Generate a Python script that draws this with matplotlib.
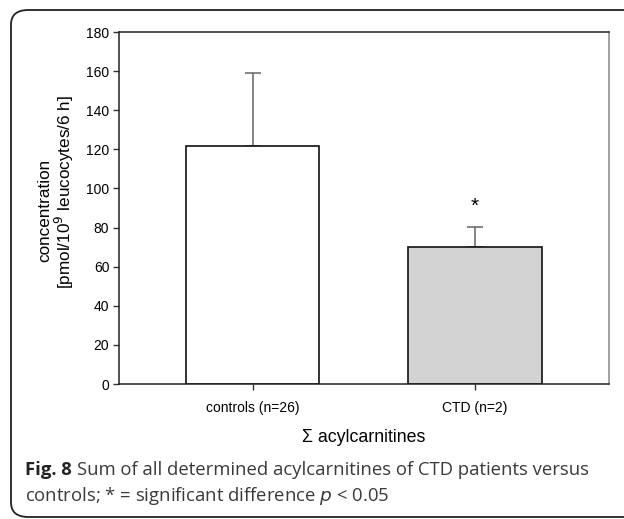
import matplotlib.pyplot as plt
from matplotlib.patches import FancyBboxPatch

groups = ['controls (n=26)', 'CTD (n=2)']
means = [121.5, 70.0]
sds = [37.3, 10.3]
bar_colors = ['white', '#d3d3d3']
yticks = [0, 20, 40, 60, 80, 100, 120, 140, 160, 180]

W, H = 624, 519
fig = plt.figure(figsize=(W / 100, H / 100), dpi=100)

def px(x0, y0, x1, y1):
    return [x0 / W, 1 - y1 / H, (x1 - x0) / W, (y1 - y0) / H]

# rounded frame around figure + caption (right side runs off the image)
frame = FancyBboxPatch((11 / W, 2 / H), 700 / W, (H - 12) / H,
                       boxstyle='round,pad=0,rounding_size=0.028',
                       transform=fig.transFigure, fill=False,
                       edgecolor='#222222', linewidth=1.3, clip_on=False)
fig.patches.append(frame)

ax = fig.add_axes(px(119, 32, 609, 384))
x = list(range(len(groups)))
ax.bar(x, means, width=0.6, color=bar_colors, edgecolor='#111111', linewidth=1.2, zorder=2)
ax.errorbar(x, means, yerr=[[0, 0], sds], fmt='none', ecolor='#707070',
            elinewidth=1.2, capsize=5.5, capthick=1.2, zorder=1)
ax.text(1, 91, '*', ha='center', va='center', fontsize=15, fontfamily='Liberation Sans')

ax.set_xlim(-0.6, 1.602)
ax.set_ylim(0, 180)
ax.set_yticks(yticks)
ax.set_xticks(x)
ax.set_xticklabels(groups)
for lab in ax.get_xticklabels() + ax.get_yticklabels():
    lab.set_fontfamily('Liberation Sans')
    lab.set_fontsize(10)
ax.tick_params(direction='out', length=4, width=1, color='#333333', pad=3)
ax.tick_params(axis='x', pad=8)
for s in ['left', 'bottom', 'top']:
    ax.spines[s].set_color('#222222')
    ax.spines[s].set_linewidth(1.1)
ax.spines['right'].set_color('#888888')
ax.spines['right'].set_linewidth(1.1)

# y label as two lines
fig.text(45 / W, 1 - 210 / H, 'concentration', rotation=90, ha='center', va='center',
         fontsize=12.3, fontfamily='Liberation Sans')
fig.text(64 / W, 1 - 192 / H, '[pmol/10$^9$ leucocytes/6 h]', rotation=90, ha='center',
         va='center', fontsize=12.3, fontfamily='Liberation Sans')
fig.text(364 / W, 1 - 437 / H, '\u03a3 acylcarnitines', ha='center', va='center',
         fontsize=12.8, fontfamily='Liberation Sans')

# caption
cap_color = '#3a3a3a'
t0 = fig.text(25 / W, 1 - 470 / H, 'Fig. 8', fontsize=13.3, fontweight='bold', va='center',
              ha='left', color='#222222', fontfamily='Open Sans')
fig.canvas.draw()
bb = t0.get_window_extent()
fig.text((bb.x1 + 5) / W, 1 - 470 / H,
         'Sum of all determined acylcarnitines of CTD patients versus',
         fontsize=13.3, va='center', ha='left', color=cap_color, fontfamily='Open Sans')
fig.text(25 / W, 1 - 496 / H, 'controls; * = significant difference $p$ < 0.05',
         fontsize=13.3, va='center', ha='left', color=cap_color, fontfamily='Open Sans')

fig.savefig('out.png', dpi=100)
